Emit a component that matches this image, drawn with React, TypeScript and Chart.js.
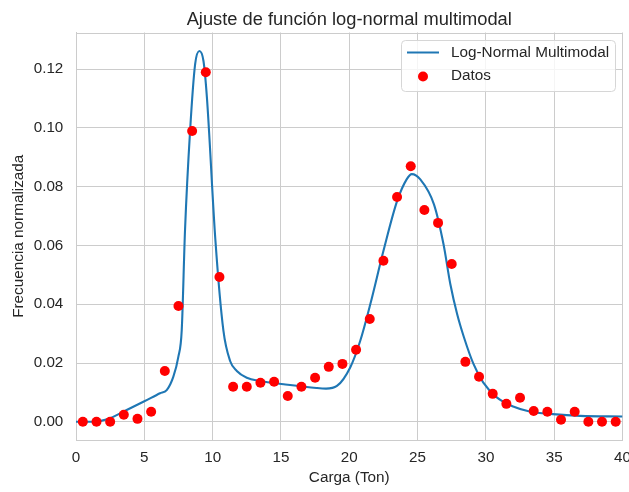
import { useEffect, useRef } from 'react';
import { Chart, registerables } from 'chart.js';

Chart.register(...registerables);

const FONT = "'Liberation Sans', Arial, sans-serif";
const TEXT = '#262626';
const GRID = '#cccccc';

const chartTitle = 'Ajuste de función log-normal multimodal';
const xLabel = 'Carga (Ton)';
const yLabel = 'Frecuencia normalizada';
const lineLabel = 'Log-Normal Multimodal';
const pointLabel = 'Datos';

// Observed data (bin centres and normalized frequencies)
const dataX = [
  0.5, 1.5, 2.5, 3.5, 4.5, 5.5, 6.5, 7.5, 8.5, 9.5,
  10.5, 11.5, 12.5, 13.5, 14.5, 15.5, 16.5, 17.5, 18.5, 19.5,
  20.5, 21.5, 22.5, 23.5, 24.5, 25.5, 26.5, 27.5, 28.5, 29.5,
  30.5, 31.5, 32.5, 33.5, 34.5, 35.5, 36.5, 37.5, 38.5, 39.5,
];
const dataY = [
  0, 0, 0, 0.0024, 0.001, 0.0034, 0.0173, 0.0394, 0.099, 0.119,
  0.0493, 0.0119, 0.0119, 0.0133, 0.0136, 0.0088, 0.0119, 0.015, 0.0187, 0.0197,
  0.0245, 0.035, 0.0548, 0.0765, 0.087, 0.0721, 0.0677, 0.0537, 0.0204, 0.0153,
  0.0095, 0.0061, 0.0082, 0.0037, 0.0034, 0.0007, 0.0034, 0, 0, 0,
];

// Fitted curve
const curveX = [
  0, 1.27, 2.49, 3.71, 4.93, 6.15, 6.64, 7.12, 7.49, 7.74,
  7.98, 8.35, 8.72, 9.03, 9.33, 9.58, 10.2, 10.79, 11.28, 11.77,
  12.5, 13.48, 15.2, 17.6, 18.3, 19.1, 20.07, 20.8, 21.54, 22.5,
  23.5, 24.2, 24.58, 25.2, 26.2, 26.9, 27.4, 27.9, 28.4, 29.1,
  29.8, 30.8, 32.0, 33.2, 34.9, 36.9, 40,
];
const curveY = [
  0, 0, 0.0012, 0.004, 0.0068, 0.0097, 0.0108, 0.0153, 0.0221, 0.0313,
  0.0653, 0.099, 0.1217, 0.1262, 0.1228, 0.1105, 0.062, 0.031, 0.0207, 0.0173,
  0.015, 0.0139, 0.0128, 0.0115, 0.0113, 0.0122, 0.0185, 0.0275, 0.04, 0.0581,
  0.0751, 0.0825, 0.0843, 0.0825, 0.074, 0.0604, 0.0468, 0.0366, 0.0287, 0.0196,
  0.0134, 0.0083, 0.0052, 0.0035, 0.0026, 0.002, 0.0018,
];

const xMin = 0;
const xMax = 40;
const xStep = 5;
const yMin = -0.0062;
const yMax = 0.1325;
const yStep = 0.02;

const decorPlugin = {
  id: 'decor',
  beforeDatasetsDraw(chart: any) {
    const { ctx, chartArea } = chart;
    ctx.save();
    ctx.strokeStyle = GRID;
    ctx.lineWidth = 1;
    ctx.strokeRect(
      Math.round(chartArea.left) + 0.5,
      Math.round(chartArea.top) + 0.5,
      Math.round(chartArea.right - chartArea.left) - 1,
      Math.round(chartArea.bottom - chartArea.top) - 1
    );
    ctx.restore();
  },
  afterDraw(chart: any) {
    const { ctx, chartArea } = chart;
    ctx.save();
    // title
    ctx.fillStyle = TEXT;
    ctx.font = `18.3px ${FONT}`;
    ctx.textAlign = 'center';
    ctx.textBaseline = 'alphabetic';
    ctx.fillText(chartTitle, (chartArea.left + chartArea.right) / 2, 24.5);

    // legend
    const bx = 401.5, by = 40.5, bw = 214, bh = 51, r = 4;
    ctx.beginPath();
    ctx.moveTo(bx + r, by);
    ctx.lineTo(bx + bw - r, by);
    ctx.quadraticCurveTo(bx + bw, by, bx + bw, by + r);
    ctx.lineTo(bx + bw, by + bh - r);
    ctx.quadraticCurveTo(bx + bw, by + bh, bx + bw - r, by + bh);
    ctx.lineTo(bx + r, by + bh);
    ctx.quadraticCurveTo(bx, by + bh, bx, by + bh - r);
    ctx.lineTo(bx, by + r);
    ctx.quadraticCurveTo(bx, by, bx + r, by);
    ctx.closePath();
    ctx.fillStyle = 'rgba(255,255,255,0.8)';
    ctx.fill();
    ctx.strokeStyle = '#d6d6d6';
    ctx.lineWidth = 1;
    ctx.stroke();

    ctx.strokeStyle = '#1f77b4';
    ctx.lineWidth = 2;
    ctx.beginPath();
    ctx.moveTo(407, 52.5);
    ctx.lineTo(439, 52.5);
    ctx.stroke();

    ctx.fillStyle = 'red';
    ctx.beginPath();
    ctx.arc(423, 76.5, 5, 0, Math.PI * 2);
    ctx.fill();

    ctx.fillStyle = TEXT;
    ctx.font = `15.3px ${FONT}`;
    ctx.textAlign = 'left';
    ctx.textBaseline = 'middle';
    ctx.fillText(lineLabel, 451, 52.5);
    ctx.fillText(pointLabel, 451, 75.5);
    ctx.restore();
  },
};

export default function App() {
  const ref = useRef<HTMLCanvasElement>(null);
  useEffect(() => {
    const canvas = ref.current;
    if (!canvas) return;
    const chart = new Chart(canvas, {
      type: 'scatter',
      data: {
        datasets: [
          {
            type: 'line',
            label: lineLabel,
            data: curveX.map((x, i) => ({ x, y: curveY[i] })),
            borderColor: '#1f77b4',
            backgroundColor: '#1f77b4',
            borderWidth: 2.1,
            pointRadius: 0,
            cubicInterpolationMode: 'monotone',
            fill: false,
            order: 2,
          } as any,
          {
            type: 'scatter',
            label: pointLabel,
            data: dataX.map((x, i) => ({ x, y: dataY[i] })),
            backgroundColor: '#ff0000',
            borderWidth: 0,
            pointRadius: 5,
            order: 1,
          } as any,
        ],
      },
      options: {
        responsive: false,
        animation: false,
        devicePixelRatio: 1,
        layout: { padding: { top: 32.5, right: 6.5, left: 0, bottom: 0 } },
        plugins: {
          legend: { display: false },
          title: { display: false },
          tooltip: { enabled: false },
        },
        scales: {
          x: {
            type: 'linear',
            min: xMin,
            max: xMax,
            afterFit: (s: any) => {
              s.height = 52;
              s.paddingRight = 0;
              s.paddingLeft = 0;
            },
            ticks: {
              stepSize: xStep,
              color: TEXT,
              font: { family: FONT, size: 15.2 },
              padding: 8.5,
              maxRotation: 0,
            },
            grid: { color: GRID, lineWidth: 1, drawTicks: false },
            border: { display: true, color: GRID },
            title: {
              display: true,
              text: xLabel,
              color: TEXT,
              font: { family: FONT, size: 15.3 },
              padding: { top: 4.8, bottom: 4.8 },
            },
          },
          y: {
            type: 'linear',
            min: yMin,
            max: yMax,
            afterFit: (s: any) => {
              s.width = 76;
              s.paddingTop = 0;
              s.paddingBottom = 0;
            },
            afterBuildTicks: (s: any) => {
              const t = [];
              for (let v = 0; v <= 0.1201; v += yStep) t.push({ value: Math.round(v * 100) / 100 });
              s.ticks = t;
            },
            ticks: {
              color: TEXT,
              font: { family: FONT, size: 15.2 },
              padding: 12.7,
              callback: (v: any) => Number(v).toFixed(2),
            },
            grid: { color: GRID, lineWidth: 1, drawTicks: false },
            border: { display: true, color: GRID },
            title: {
              display: true,
              text: yLabel,
              color: TEXT,
              font: { family: FONT, size: 15.3 },
              padding: { top: 9.8, bottom: 9.8 },
            },
          },
        },
      } as any,
      plugins: [decorPlugin],
    });
    return () => chart.destroy();
  }, []);
  return (
    <div style={{ position: 'fixed', left: 0, top: 0, width: 629, height: 492, background: '#ffffff' }}>
      <canvas ref={ref} width={629} height={492} style={{ display: 'block', width: 629, height: 492 }} />
    </div>
  );
}
